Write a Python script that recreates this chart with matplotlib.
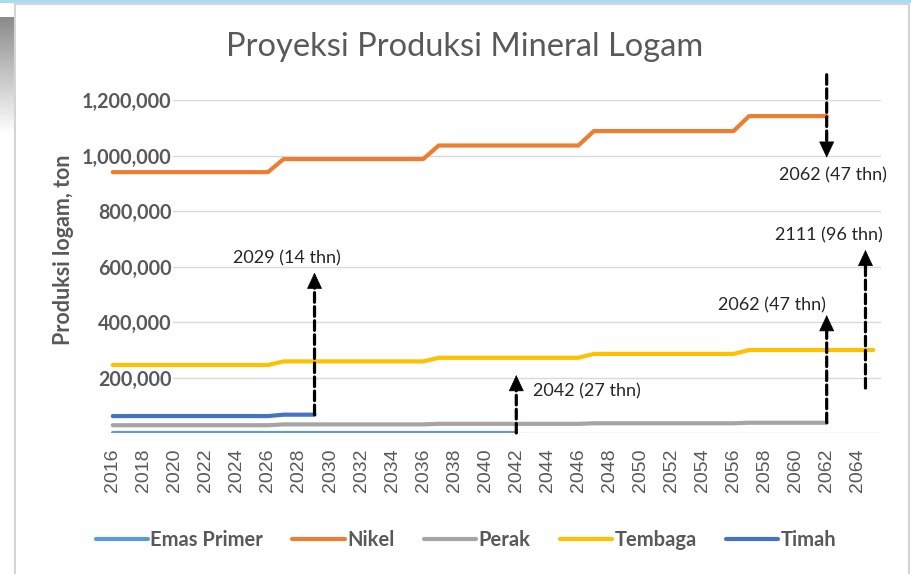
import numpy as np
import matplotlib.pyplot as plt
from matplotlib.ticker import FuncFormatter
from matplotlib.patches import Rectangle

nan = np.nan
years = list(range(2016, 2066))
emas_primer = [600] * 27 + [nan] * 23
nikel = [940000] * 11 + [987000] * 10 + [1036000] * 10 + [1088000] * 10 + [1142000] * 6 + [nan] * 3
perak = [28000] * 11 + [31000] * 10 + [33000] * 10 + [35000] * 10 + [37000] * 6 + [nan] * 3
tembaga = [245000] * 11 + [258000] * 10 + [271000] * 10 + [285000] * 10 + [299000] * 9
timah = [61000] * 11 + [66000] * 3 + [nan] * 36

series = [('Emas Primer', emas_primer, '#5B9BD5'),
          ('Nikel', nikel, '#ED7D31'),
          ('Perak', perak, '#A5A5A5'),
          ('Tembaga', tembaga, '#FFC000'),
          ('Timah', timah, '#4472C4')]

# (year of arrow, tail value, head value, label, label year, label value, ha)
notes = [(2029, 66000, 578000, '2029 (14 thn)', 2027.23, 612000, 'center'),
         (2042, 0, 209000, '2042 (27 thn)', 2043.08, 133000, 'left'),
         (2062, 1291000, 992000, '2062 (47 thn)', 2062.4, 910000, 'center'),
         (2062, 37000, 425000, '2062 (47 thn)', 2058.48, 441000, 'center'),
         (2064.5, 162000, 660000, '2111 (96 thn)', 2062.15, 693000, 'center')]

gray = '#595959'
calib = ['Lato', 'DejaVu Sans']
arial = ['Liberation Sans', 'DejaVu Sans']

fig = plt.figure(figsize=(9.12, 5.74), dpi=100)
ax = fig.add_axes([105 / 912, 1 - 433 / 574, 776 / 912, 333 / 574])

x = np.arange(len(years))
for name, vals, col in series:
    ax.plot(x, vals, color=col, lw=3, label=name, solid_capstyle='round', solid_joinstyle='round')

ax.set_xlim(-0.5, len(years) - 0.5)
ax.set_ylim(0, 1200000)
ax.set_yticks(np.arange(0, 1200001, 200000))
ax.yaxis.set_major_formatter(FuncFormatter(lambda v, p: '' if v == 0 else '{:,.0f}'.format(v)))
ax.set_xticks(x[::2])
ax.set_xticklabels([str(y) for y in years[::2]], rotation=90, family=arial, fontsize=14, color=gray)
ax.grid(axis='y', color='#D9D9D9', lw=1)
ax.set_axisbelow(True)
for s in ax.spines.values():
    s.set_visible(False)
ax.tick_params(axis='both', length=0)
ax.tick_params(axis='x', pad=11)
ax.tick_params(axis='y', pad=-48)
for lab in ax.get_yticklabels():
    lab.set_fontfamily(calib)
    lab.set_fontweight('bold')
    lab.set_fontsize(14.2)
    lab.set_color(gray)
    lab.set_bbox(dict(facecolor='white', edgecolor='none', pad=1))

ax.set_ylabel('Produksi logam, ton', family=calib, fontweight='bold', fontsize=15.5, color=gray)
ax.yaxis.set_label_coords(-0.04, 0.55)

# arrows: dashed shaft + solid head
yspan = 1200000 / 333.0  # value per pixel
for yr, tail, head, label, lx, ly, ha in notes:
    xp = yr - years[0]
    sign = 1 if head > tail else -1
    base = head - sign * 13 * yspan
    ax.annotate('', xy=(xp, base), xytext=(xp, tail),
                arrowprops=dict(arrowstyle='-', lw=2.3, ls=(0, (3.0, 1.4)), color='black',
                                shrinkA=0, shrinkB=0), annotation_clip=False)
    ax.annotate('', xy=(xp, head), xytext=(xp, head - sign * 16 * yspan),
                arrowprops=dict(arrowstyle='-|>,head_length=0.9,head_width=0.42', mutation_scale=12,
                                lw=0.5, color='black', shrinkA=0, shrinkB=0), annotation_clip=False)
    ax.text(xp + lx - yr, ly, label, ha=ha, va='baseline', family=calib, fontsize=13, color='#262626')

fig.text(465 / 912, 1 - 47 / 574, 'Proyeksi Produksi Mineral Logam', ha='center', va='center',
         family=calib, fontsize=23.5, color=gray)

leg = ax.legend(loc='center', bbox_to_anchor=(466 / 912, 1 - 540 / 574), bbox_transform=fig.transFigure,
                ncol=5, frameon=False, handlelength=2.6, handletextpad=0.12, columnspacing=1.45,
                prop=dict(family=calib, weight='bold', size=14.5))
for t in leg.get_texts():
    t.set_color(gray)

# screenshot frame
fig.patches.append(Rectangle((15 / 912, -0.01), 894 / 912, 1.01 - 4 / 574, transform=fig.transFigure,
                             fill=False, edgecolor='#D4D4D4', lw=1.5))
fig.patches.append(Rectangle((0, 1 - 3 / 574), 1, 3 / 574, transform=fig.transFigure,
                             facecolor='#A9DCF2', edgecolor='none'))
gax = fig.add_axes([0, 1 - 135 / 574, 14 / 912, 118 / 574])
gax.imshow(np.linspace(0.55, 1, 50).reshape(-1, 1), cmap='gray', vmin=0, vmax=1, aspect='auto')
gax.axis('off')

fig.savefig('out.png', dpi=100)
